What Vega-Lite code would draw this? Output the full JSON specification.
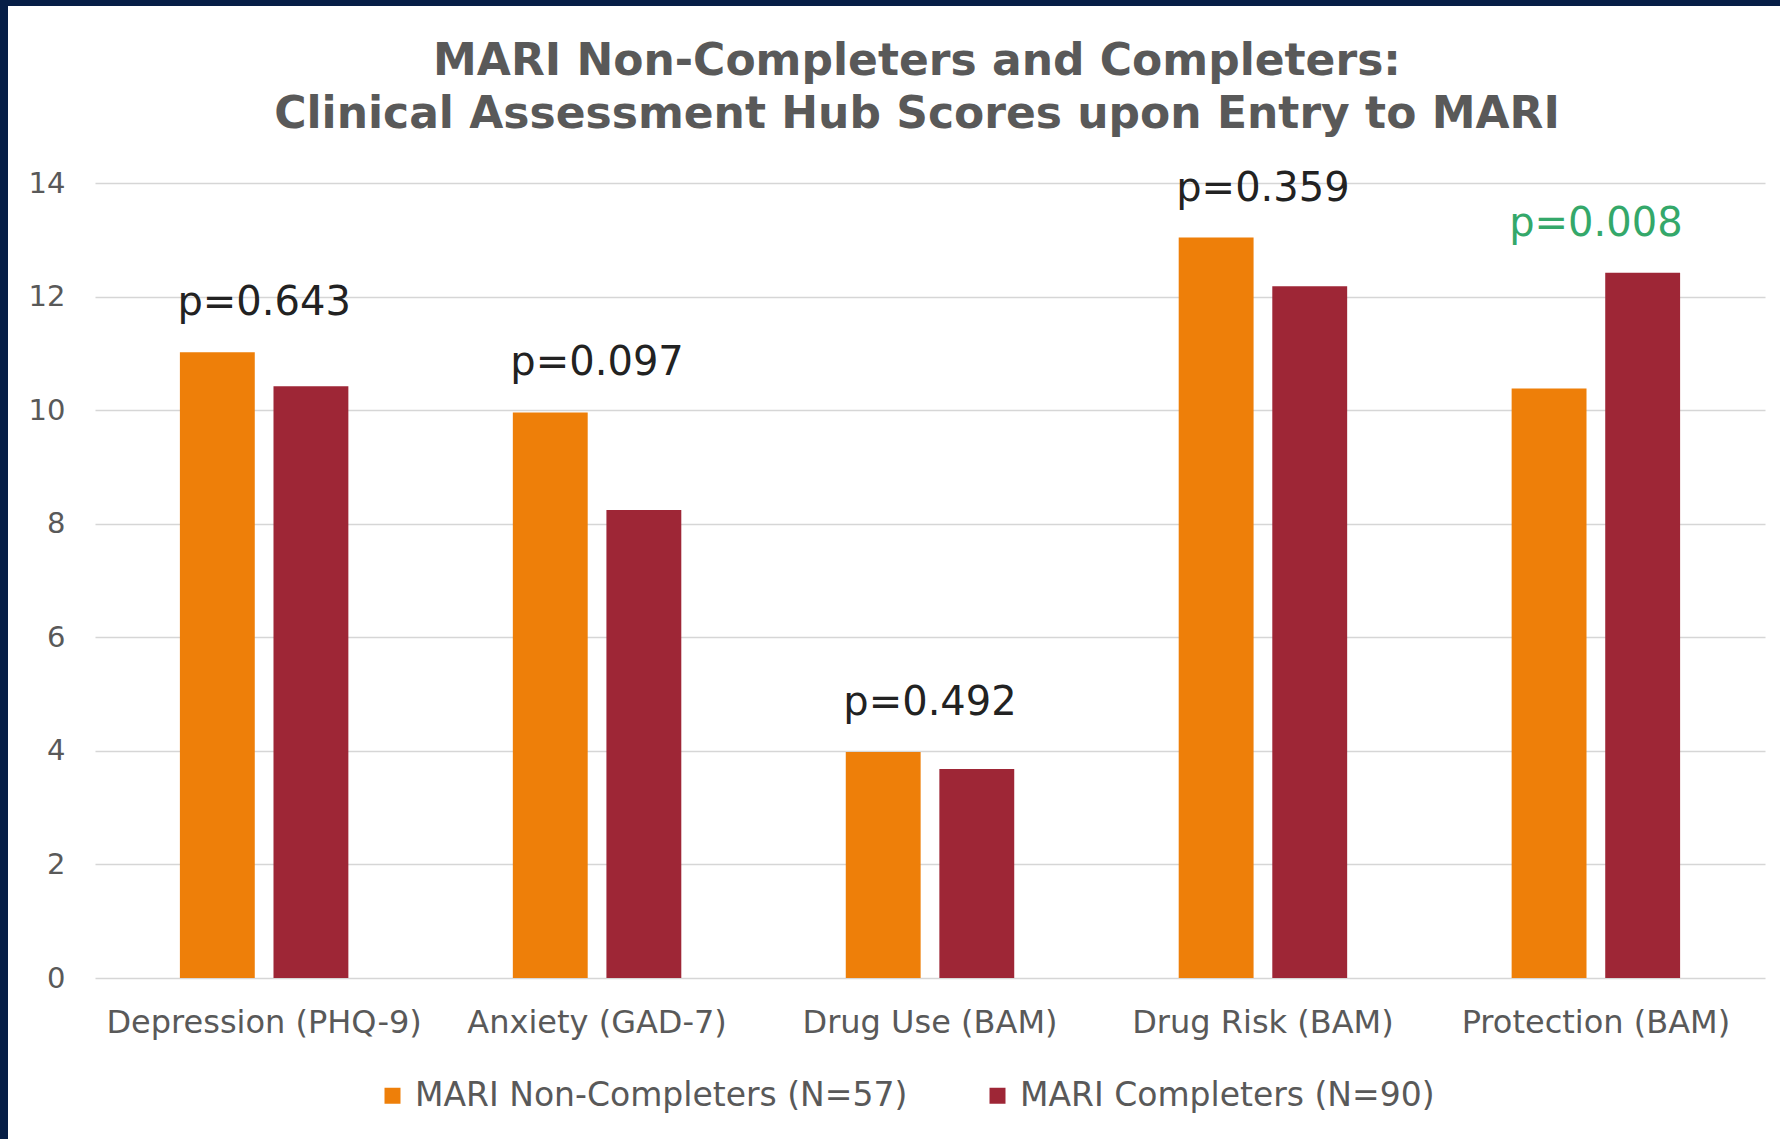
{
  "$schema": "https://vega.github.io/schema/vega-lite/v6.json",
  "background": "white",
  "padding": 0,
  "spacing": 0,
  "config": {"view": {"stroke": null}, "font": "DejaVu Sans"},
  "vconcat": [
    {"width": 1780, "height": 6, "view": {"fill": "#061e46", "stroke": null}, "data": {"values": []}, "mark": "rect"},
    {
      "spacing": 0,
      "hconcat": [
        {"width": 8, "height": 1133, "view": {"fill": "#061e46", "stroke": null}, "data": {"values": []}, "mark": "rect"},
        {
          "width": 1670,
          "height": 972,
          "title": {
            "text": ["MARI Non-Completers and Completers:", "Clinical Assessment Hub Scores upon Entry to MARI"],
            "fontSize": 44, "font": "DejaVu Sans", "fontWeight": "bold", "color": "#595959",
            "lineHeight": 53, "offset": -131, "anchor": "middle", "frame": "group", "dx": -13
          },
          "data": {"values": [
            {"measure": "Depression (PHQ-9)", "group": "MARI Non-Completers (N=57)", "score": 11.02, "p": "p=0.643", "sig": false},
            {"measure": "Depression (PHQ-9)", "group": "MARI Completers (N=90)", "score": 10.42, "p": "p=0.643", "sig": false},
            {"measure": "Anxiety (GAD-7)", "group": "MARI Non-Completers (N=57)", "score": 9.96, "p": "p=0.097", "sig": false},
            {"measure": "Anxiety (GAD-7)", "group": "MARI Completers (N=90)", "score": 8.24, "p": "p=0.097", "sig": false},
            {"measure": "Drug Use (BAM)", "group": "MARI Non-Completers (N=57)", "score": 3.98, "p": "p=0.492", "sig": false},
            {"measure": "Drug Use (BAM)", "group": "MARI Completers (N=90)", "score": 3.68, "p": "p=0.492", "sig": false},
            {"measure": "Drug Risk (BAM)", "group": "MARI Non-Completers (N=57)", "score": 13.04, "p": "p=0.359", "sig": false},
            {"measure": "Drug Risk (BAM)", "group": "MARI Completers (N=90)", "score": 12.18, "p": "p=0.359", "sig": false},
            {"measure": "Protection (BAM)", "group": "MARI Non-Completers (N=57)", "score": 10.38, "p": "p=0.008", "sig": true},
            {"measure": "Protection (BAM)", "group": "MARI Completers (N=90)", "score": 12.42, "p": "p=0.008", "sig": true}
          ]},
          "encoding": {
            "x": {
              "field": "measure", "type": "nominal",
              "sort": ["Depression (PHQ-9)", "Anxiety (GAD-7)", "Drug Use (BAM)", "Drug Risk (BAM)", "Protection (BAM)"],
              "scale": {"paddingInner": 0.494, "paddingOuter": 0.255},
              "axis": {
                "title": null, "labelAngle": 0, "domain": false, "ticks": false, "tickSize": 0,
                "labelPadding": 29, "labelFontSize": 32, "labelColor": "#595959", "labelFont": "DejaVu Sans",
                "labelLimit": 600
              }
            }
          },
          "layer": [
            {
              "mark": {"type": "bar"},
              "encoding": {
                "xOffset": {
                  "field": "group", "type": "nominal",
                  "sort": ["MARI Non-Completers (N=57)", "MARI Completers (N=90)"],
                  "scale": {"paddingInner": 0.2, "paddingOuter": 0}
                },
                "y": {
                  "field": "score", "type": "quantitative",
                  "scale": {"domain": [0, 14], "nice": false, "range": [972, 177]},
                  "axis": {
                    "title": null, "values": [0, 2, 4, 6, 8, 10, 12, 14], "format": "d",
                    "domain": false, "ticks": false, "tickSize": 0,
                    "grid": true, "gridColor": "#d6d6d6", "gridWidth": 1.5,
                    "labelPadding": 30, "labelFontSize": 29, "labelColor": "#595959", "labelFont": "DejaVu Sans",
                    "minExtent": 87, "maxExtent": 87
                  }
                },
                "color": {
                  "field": "group", "type": "nominal",
                  "sort": ["MARI Non-Completers (N=57)", "MARI Completers (N=90)"],
                  "scale": {"range": ["#ee7f09", "#9e2636"]},
                  "legend": {
                    "orient": "none", "legendX": 376, "legendY": 1079, "direction": "horizontal",
                    "title": null, "symbolType": "square", "symbolSize": 256, "symbolStrokeWidth": 0,
                    "labelFontSize": 33, "labelColor": "#595959", "labelFont": "DejaVu Sans",
                    "labelLimit": 800, "columnPadding": 73, "labelOffset": 6, "padding": 0
                  }
                }
              }
            },
            {
              "transform": [
                {"joinaggregate": [{"op": "max", "field": "score", "as": "maxScore"}], "groupby": ["measure"]},
                {"filter": "datum.group === 'MARI Non-Completers (N=57)'"}
              ],
              "mark": {"type": "text", "fontSize": 40, "font": "DejaVu Sans", "baseline": "middle", "align": "center", "dy": -49},
              "encoding": {
                "y": {"field": "maxScore", "type": "quantitative"},
                "text": {"field": "p", "type": "nominal"},
                "color": {"condition": {"test": "datum.sig === true", "value": "#34a86a"}, "value": "#222222"}
              }
            }
          ]
        }
      ]
    }
  ]
}
